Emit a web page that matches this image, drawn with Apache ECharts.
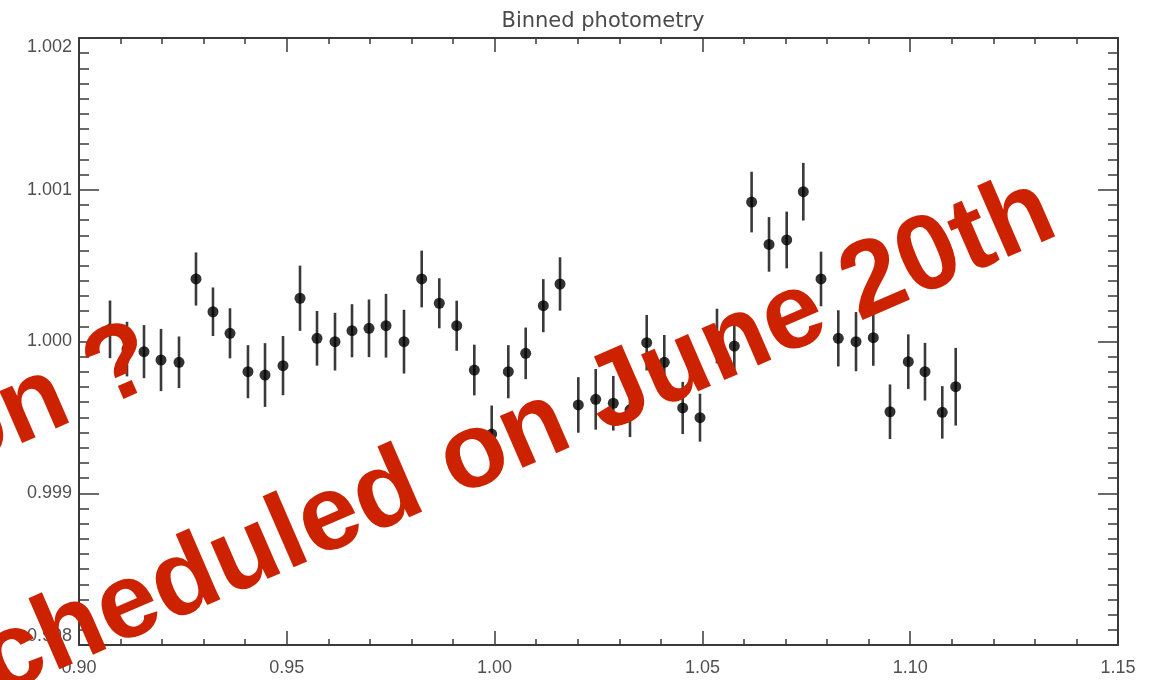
<!DOCTYPE html>
<html>
<head>
<meta charset="utf-8">
<script src="https://cdn.jsdelivr.net/npm/echarts@6/dist/echarts.min.js"></script>
<style>
html,body{margin:0;padding:0;background:#fff;}
#chart{width:1156px;height:680px;}
</style>
</head>
<body>
<div id="chart"></div>
<script>
// ---- data ----
var titleText = 'Binned photometry';
var phase = [0.90746,0.91155,0.91564,0.91973,0.92406,0.92815,0.93224,0.93633,0.94066,0.94476,
             0.94909,0.95318,0.95727,0.96160,0.96569,0.96978,0.97387,0.97820,0.98246,0.98669,
             0.99088,0.99512,0.99930,1.00330,1.00748,1.01172,1.01574,1.02014,1.02433,1.02856,
             1.03258,1.03660,1.04083,1.04526,1.04942,1.05351,1.05768,1.06184,1.06603,1.07028,
             1.07428,1.07854,1.08270,1.08696,1.09112,1.09514,1.09954,1.10356,1.10772,1.11095];
var flux = [1.000080,0.999950,0.999933,0.999878,0.999863,1.000412,1.000196,1.000054,0.999801,0.999779,
            0.999841,1.000285,1.000021,0.999999,1.000071,1.000087,1.000104,0.999999,1.000412,1.000252,
            1.000104,0.999812,0.999390,0.999801,0.999922,1.000236,1.000379,0.999582,0.999619,0.999593,
            0.999550,0.999992,0.999863,0.999562,0.999498,1.000036,0.999970,1.000919,1.000640,1.000669,
            1.000987,1.000412,1.000021,0.999999,1.000025,0.999537,0.999867,0.999801,0.999533,0.999702];
var fluxErr = [0.000190,0.000180,0.000175,0.000205,0.000170,0.000175,0.000160,0.000165,0.000175,0.000210,
               0.000195,0.000215,0.000180,0.000190,0.000175,0.000190,0.000210,0.000210,0.000187,0.000165,
               0.000165,0.000167,0.000188,0.000175,0.000170,0.000175,0.000176,0.000183,0.000200,0.000180,
               0.000180,0.000183,0.000180,0.000172,0.000158,0.000180,0.000180,0.000200,0.000180,0.000187,
               0.000190,0.000180,0.000185,0.000195,0.000185,0.000180,0.000180,0.000190,0.000173,0.000256];
var xTicks = {min:0.90, max:1.15, step:0.05};
var yTicks = {min:0.998, max:1.002, step:0.001};
var stampLine1 = 'on ?';
var stampLine2 = 'Scheduled on June 20th';

// ---- chart ----
var chart = echarts.init(document.getElementById('chart'), null, {renderer:'canvas'});
var axisCol = '#3a3a3a';
var labCol = '#505050';
var labFont = 'Liberation Sans';

function xAxisCfg(pos, showLabel){
  return {
    type:'value', position:pos, min:xTicks.min, max:xTicks.max, interval:xTicks.step,
    axisLine:{show:true, onZero:false, lineStyle:{color:axisCol, width:2}},
    axisTick:{show:true, inside:true, length:14, lineStyle:{color:axisCol, width:1.5}},
    minorTick:{show:true, splitNumber:5, length:6, lineStyle:{color:axisCol, width:1.5}},
    splitLine:{show:false}, minorSplitLine:{show:false},
    axisLabel:{show:showLabel, margin:14, color:labCol, fontSize:18, fontFamily:labFont,
      formatter:function(v){return v.toFixed(2);}}
  };
}
function yAxisCfg(pos, showLabel){
  return {
    type:'value', position:pos, min:yTicks.min, max:yTicks.max, interval:yTicks.step,
    axisLine:{show:true, onZero:false, lineStyle:{color:axisCol, width:2}},
    axisTick:{show:true, inside:true, length:20, lineStyle:{color:axisCol, width:1.5}},
    minorTick:{show:true, splitNumber:10, length:10, lineStyle:{color:axisCol, width:1.5}},
    splitLine:{show:false}, minorSplitLine:{show:false},
    axisLabel:{show:showLabel, margin:7, color:labCol, fontSize:18, fontFamily:labFont,
      verticalAlignMaxLabel:'top', verticalAlignMinLabel:'bottom',
      formatter:function(v){return v.toFixed(3);}}
  };
}

var barData = phase.map(function(x,i){ return [x, flux[i]-fluxErr[i], flux[i]+fluxErr[i]]; });
var ptData = phase.map(function(x,i){ return [x, flux[i]]; });

var rot = 23.5*Math.PI/180;

chart.setOption({
  animation:false,
  backgroundColor:'#fff',
  title:{text:titleText, left:598, top:6, textAlign:'center',
    textStyle:{color:'#4a4a4a', fontSize:21, fontWeight:'normal', fontFamily:'DejaVu Sans'}},
  grid:{left:79, right:38, top:38, bottom:35},
  xAxis:[xAxisCfg('bottom', true), xAxisCfg('top', false)],
  yAxis:[yAxisCfg('left', true), yAxisCfg('right', false)],
  series:[
    {type:'custom', xAxisIndex:0, yAxisIndex:0, data:barData, encode:{x:0, y:[1,2]},
     renderItem:function(params, api){
       var x = api.value(0);
       var p1 = api.coord([x, api.value(1)]);
       var p2 = api.coord([x, api.value(2)]);
       return {type:'line', shape:{x1:p1[0], y1:p1[1], x2:p2[0], y2:p2[1]},
               style:{stroke:'#3a3a3a', lineWidth:2.6}};
     }, z:2},
    {type:'scatter', xAxisIndex:0, yAxisIndex:0, data:ptData, symbol:'circle', symbolSize:11,
     itemStyle:{color:'#000'}, z:3}
  ],
  graphic:[
    {type:'text', x:485, y:452, rotation:rot, z:100,
     style:{text:stampLine2, fontSize:107, fontWeight:'bold', fontFamily:'Liberation Sans',
            fill:'#cc2200', align:'center', verticalAlign:'middle'}},
    {type:'text', x:172, y:404, rotation:rot, z:100,
     style:{text:stampLine1, fontSize:107, fontWeight:'bold', fontFamily:'Liberation Sans',
            fill:'#cc2200', align:'right', verticalAlign:'bottom'}}
  ]
});
</script>
</body>
</html>
